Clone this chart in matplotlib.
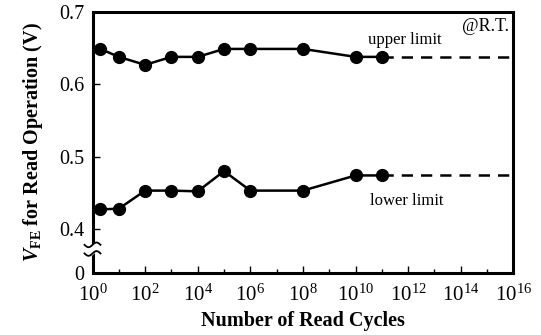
import numpy as np
import matplotlib
matplotlib.use("Agg")
import matplotlib.pyplot as plt

plt.rcParams['font.family'] = ['Liberation Serif', 'DejaVu Serif']
plt.rcParams['mathtext.fontset'] = 'custom'
plt.rcParams['mathtext.rm'] = 'Liberation Serif'
plt.rcParams['mathtext.it'] = 'Liberation Serif:italic:bold'
plt.rcParams['mathtext.bf'] = 'Liberation Serif:bold'

# Данные
cycles = [2, 1e1, 1e2, 1e3, 1e4, 1e5, 1e6, 1e8, 1e10, 1e11]
upper = [0.649, 0.638, 0.627, 0.638, 0.638, 0.649, 0.649, 0.649, 0.638, 0.638]
lower = [0.427, 0.428, 0.453, 0.453, 0.452, 0.480, 0.453, 0.453, 0.474, 0.474]
extrap_x = [1e11, 1e16]
upper_lim = 0.638
lower_lim = 0.474
yticks = [0.339, 0.4, 0.5, 0.6, 0.7]
ytick_labels = ['0', '0.4', '0.5', '0.6', '0.7']
xticks = [10.0 ** k for k in range(0, 17, 2)]
xtick_labels = [f'$10^{{{k}}}$' for k in range(0, 17, 2)]

fig = plt.figure(figsize=(5.41, 3.35), dpi=100)
ax = fig.add_axes([0.171, 0.185, 0.778, 0.779])

ax.plot(cycles, upper, '-o', color='black', lw=1.8, ms=8.5, zorder=3)
ax.plot(cycles, lower, '-o', color='black', lw=1.8, ms=8.5, zorder=3)
ax.plot(extrap_x, [upper_lim] * 2, '--', color='black', lw=1.8, dashes=(4.5, 3.2))
ax.plot(extrap_x, [lower_lim] * 2, '--', color='black', lw=1.8, dashes=(4.5, 3.2))

ax.set_xscale('log')
ax.set_xlim(1, 1e16)
ax.set_ylim(0.339, 0.7)
ax.set_xticks(xticks)
ax.set_xticklabels(xtick_labels)
ax.set_xticks([10.0 ** k for k in range(1, 16, 2)], minor=True)
ax.xaxis.set_minor_formatter(matplotlib.ticker.NullFormatter())
ax.set_yticks(yticks)
ax.set_yticklabels(ytick_labels)

ax.tick_params(which='major', direction='in', length=5, width=1.0)
ax.tick_params(axis='x', which='major', labelsize=15, pad=8)
ax.tick_params(which='minor', direction='in', length=3, width=1.0)
ax.tick_params(axis='y', which='major', labelsize=14.5, pad=6)
ax.tick_params(axis='y', which='minor', left=False)
for s in ax.spines.values():
    s.set_linewidth(2.2)

# разрыв оси
t = np.linspace(-1, 1, 50)
xs = 0.019 * t
w1 = 0.108 + 0.009 * np.sin(np.pi * t)
w2 = 0.075 + 0.009 * np.sin(np.pi * t)
ax.fill_between(xs, w2, w1, color='white', transform=ax.transAxes, clip_on=False, zorder=5)
ax.plot(xs, w1, color='black', lw=1.3, transform=ax.transAxes, clip_on=False, zorder=6)
ax.plot(xs, w2, color='black', lw=1.3, transform=ax.transAxes, clip_on=False, zorder=6)

ax.text(3e10, 0.662, 'upper limit', fontsize=12, ha='left', va='center')
ax.text(3.5e10, 0.439, 'lower limit', fontsize=12, ha='left', va='center')
ax.text(0.99, 0.946, '@R.T.', fontsize=13, ha='right', va='center', transform=ax.transAxes)

ax.set_xlabel('Number of Read Cycles', fontsize=14.5, fontweight='bold', labelpad=4)
ax.set_ylabel(r'$V_{\mathbf{FE}}$ for Read Operation (V)', fontsize=14.5, fontweight='bold', labelpad=10)

fig.savefig('out.png', dpi=100)
